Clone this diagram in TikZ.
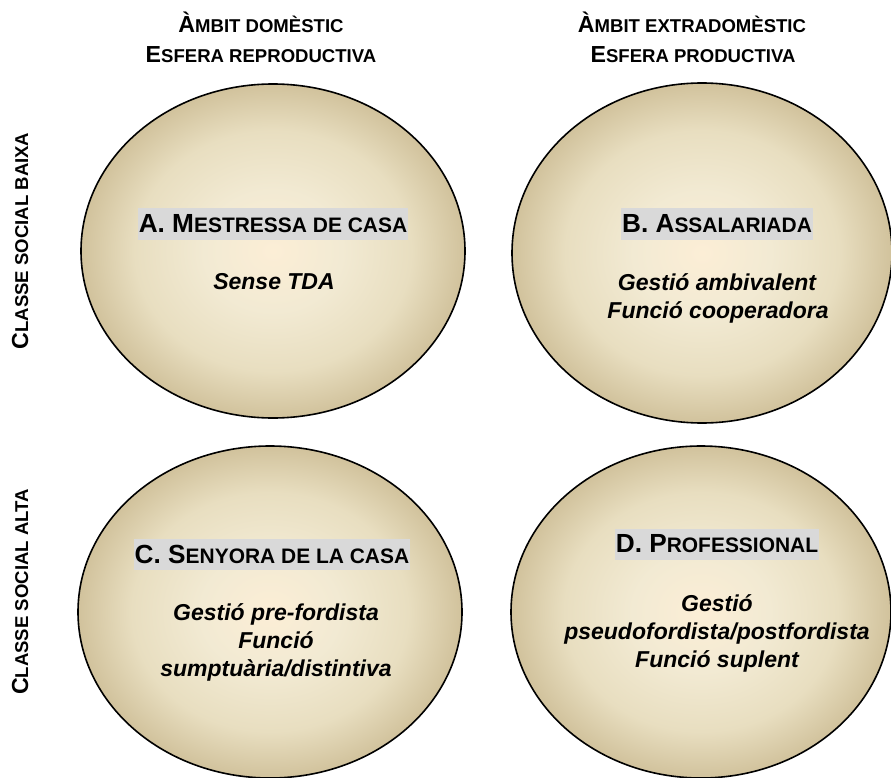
\documentclass[tikz,border=0pt]{standalone}
\usepackage{fontspec}
\setmainfont{Liberation Sans}
\usetikzlibrary{shapes.geometric}
\definecolor{c1}{HTML}{FCEED6}
\definecolor{c2}{HTML}{F2EAD3}
\definecolor{c3}{HTML}{E8DEC0}
\definecolor{c4}{HTML}{D1C29C}
\definecolor{boxgray}{HTML}{D9D9D9}
\pgfdeclareradialshading{tanshade}{\pgfpoint{0bp}{0bp}}{color(0bp)=(c1); color(9bp)=(c2); color(18bp)=(c3); color(25bp)=(c4); color(50bp)=(c4)}
\newcommand\smc[1]{\scalebox{0.8}{#1}}
\begin{document}
\begin{tikzpicture}[x=1pt,y=-1pt,
  oval/.style={ellipse, draw=black, line width=1.6pt, shading=tanshade, inner sep=0pt},
  hdr/.style={anchor=base, inner sep=0pt, font=\bfseries\fontsize{23.2}{28}\selectfont},
  side/.style={anchor=base, rotate=90, inner sep=0pt, font=\bfseries\fontsize{23.2}{28}\selectfont},
  titlebox/.style={fill=boxgray, inner xsep=1pt, inner ysep=0pt, minimum height=31pt, font=\bfseries\fontsize{26.2}{30}\selectfont},
  ital/.style={anchor=base, inner sep=0pt, font=\bfseries\itshape\fontsize{23}{27}\selectfont}]
\useasboundingbox (0,0) rectangle (891,778);
% ellipses
\node[oval, minimum width=384pt, minimum height=334pt] (A) at (273,251) {};
\node[oval, minimum width=380pt, minimum height=340pt] (B) at (702,253) {};
\node[oval, minimum width=384pt, minimum height=332pt] (C) at (270,612) {};
\node[oval, minimum width=380pt, minimum height=332pt] (D) at (701,612) {};
% headers
\node[hdr] (h1a) at (261,33) {À\smc{MBIT DOMÈSTIC}};
\node[hdr] (h1b) at (261,63) {E\smc{SFERA REPRODUCTIVA}};
\node[hdr] (h2a) at (692,33) {À\smc{MBIT EXTRADOMÈSTIC}};
\node[hdr] (h2b) at (693,63) {E\smc{SFERA PRODUCTIVA}};
% side labels
\node[side] (s1) at (28,241) {C\smc{LASSE SOCIAL BAIXA}};
\node[side] (s2) at (28,592) {C\smc{LASSE SOCIAL ALTA}};
% A
\node[titlebox] (tA) at (273,224) {A. M\smc{ESTRESSA DE CASA}};
\node[ital] (iA1) at (274,289) {Sense TDA};
% B
\node[titlebox] (tB) at (717,224) {B. A\smc{SSALARIADA}};
\node[ital] (iB1) at (717,290) {Gestió ambivalent};
\node[ital] (iB2) at (718,318) {Funció cooperadora};
% C
\node[titlebox] (tC) at (272,554) {C. S\smc{ENYORA DE LA CASA}};
\node[ital] (iC1) at (276,620) {Gestió pre-fordista};
\node[ital] (iC2) at (276,648) {Funció};
\node[ital] (iC3) at (276,676) {sumptuària/distintiva};
% D
\node[titlebox] (tD) at (717,544) {D. P\smc{ROFESSIONAL}};
\node[ital] (iD1) at (717,611) {Gestió};
\node[ital] (iD2) at (717,639) {pseudofordista/postfordista};
\node[ital] (iD3) at (717,667) {Funció suplent};
\end{tikzpicture}
\end{document}
